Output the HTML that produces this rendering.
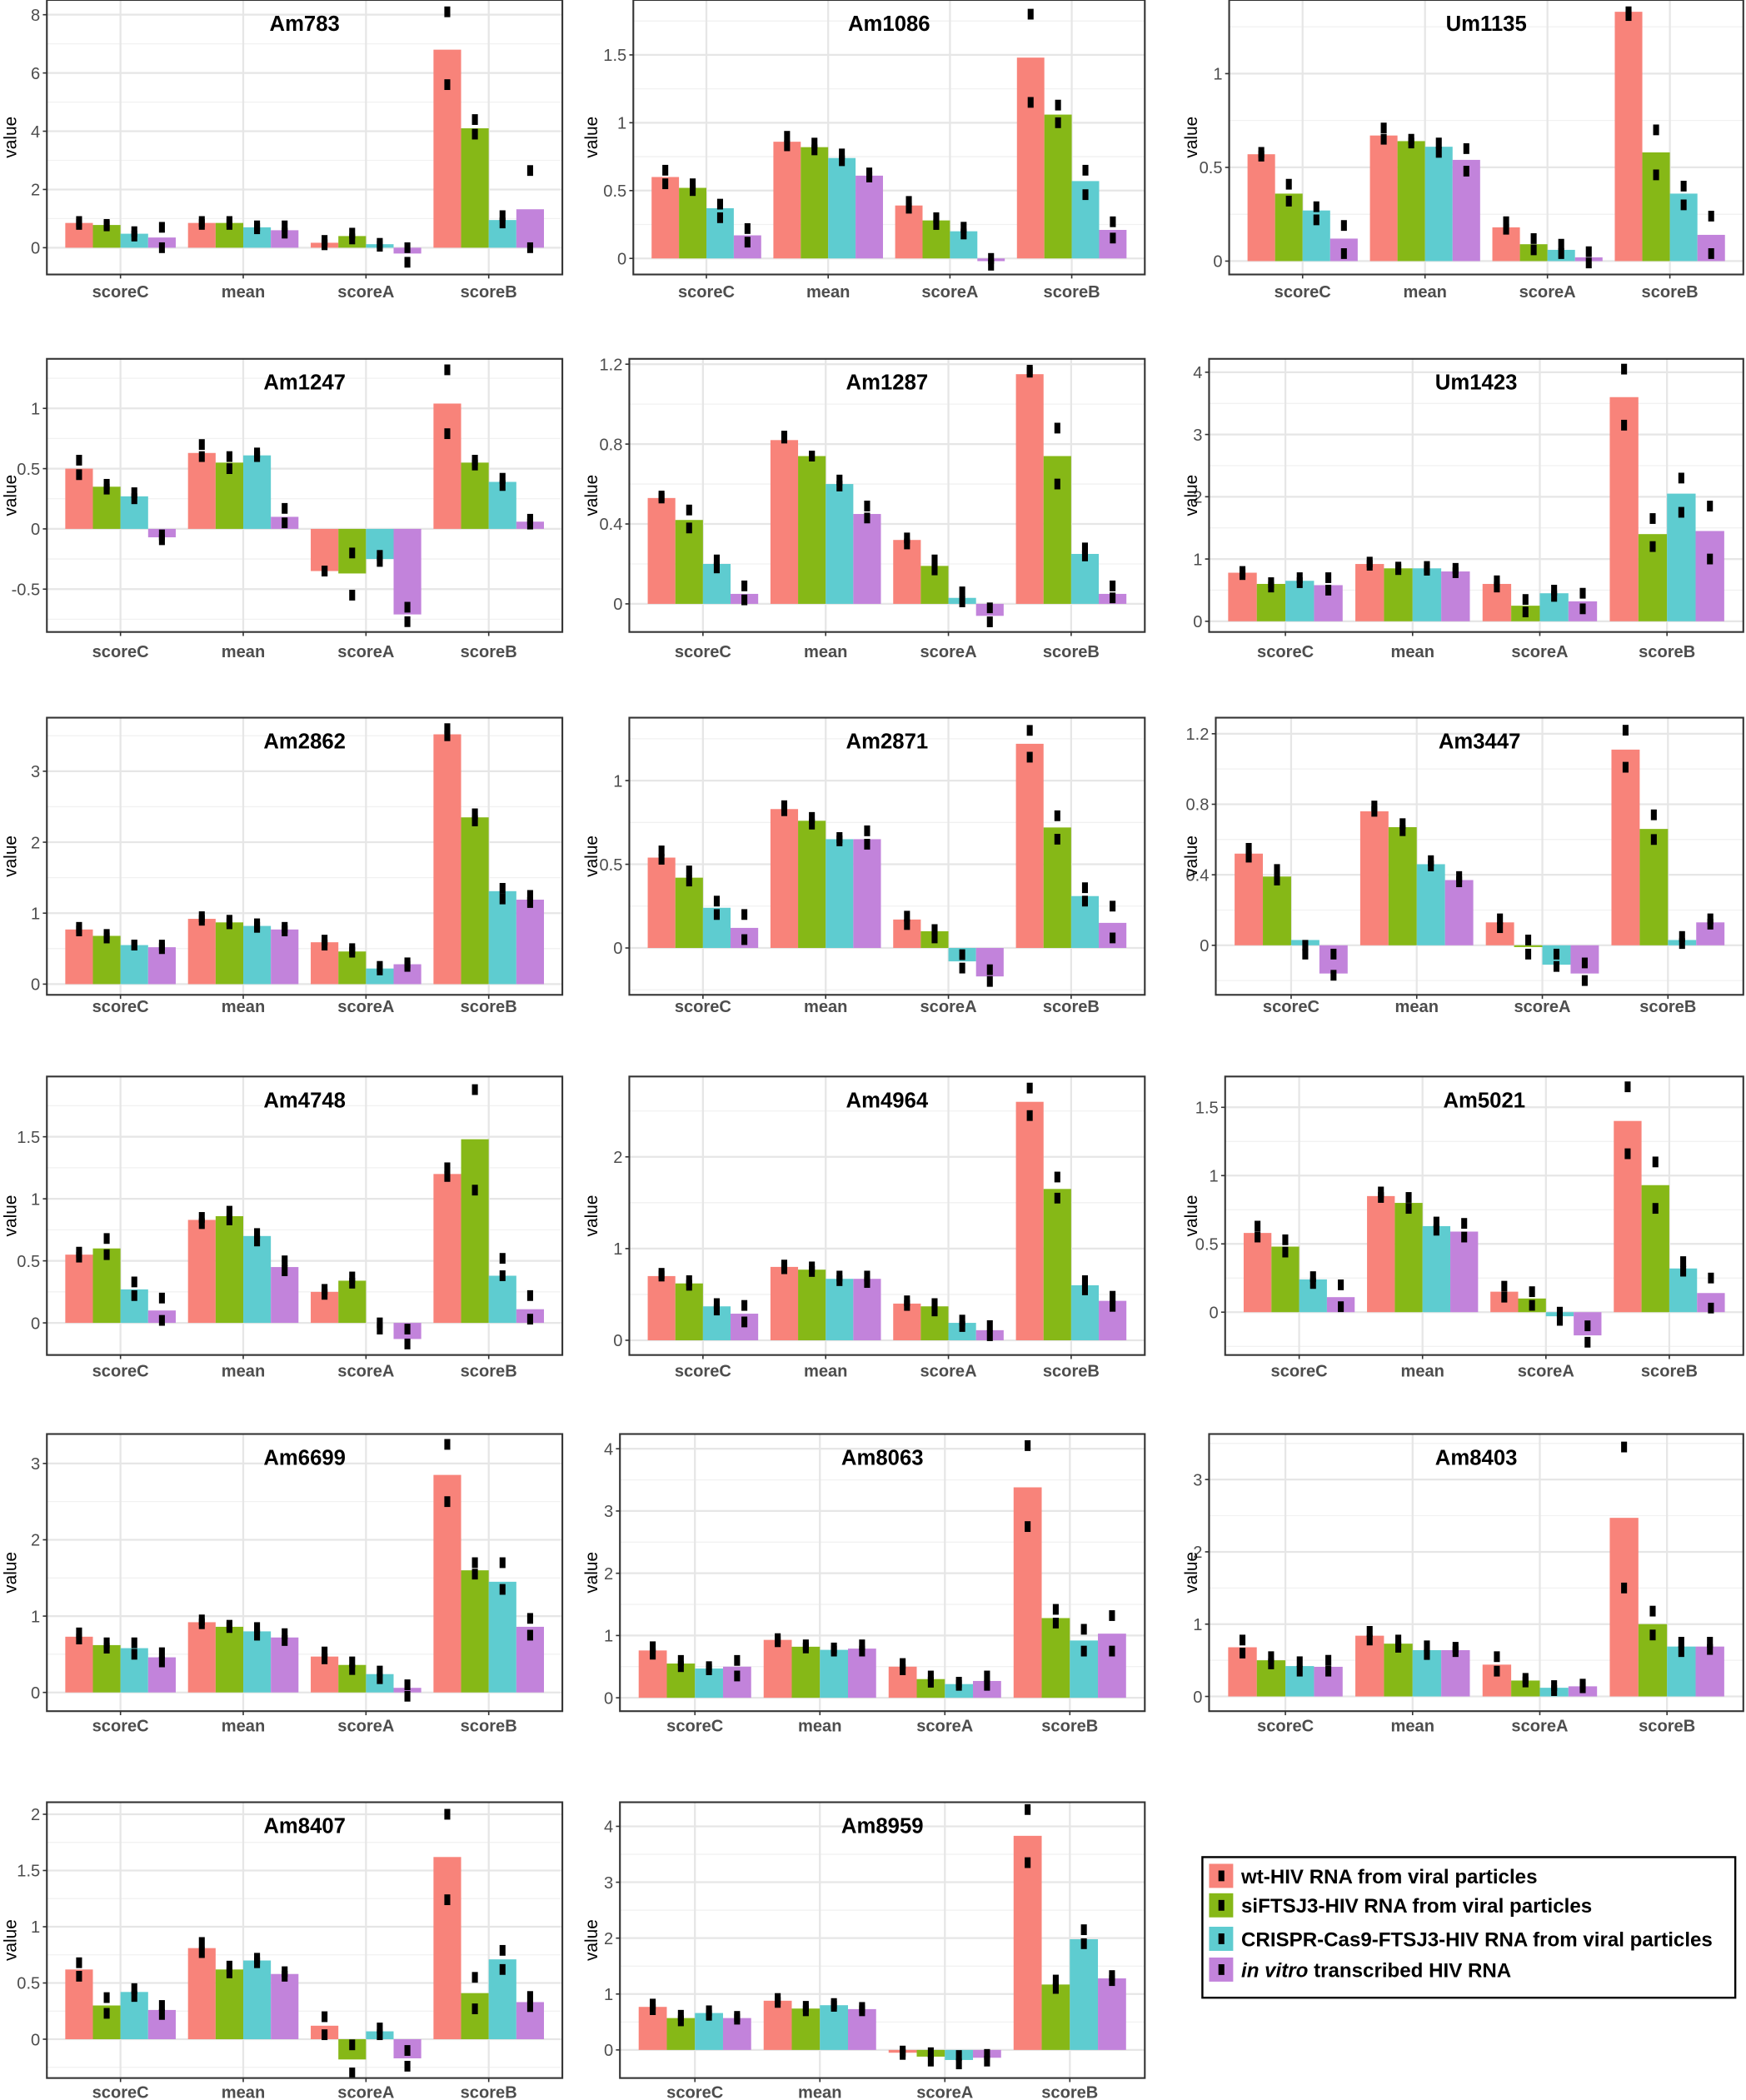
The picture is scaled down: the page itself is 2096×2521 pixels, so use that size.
<!DOCTYPE html>
<html><head><meta charset="utf-8"><style>html,body{margin:0;padding:0;background:#fff}svg{display:block}</style></head>
<body>
<svg id="s" xmlns="http://www.w3.org/2000/svg" width="2096" height="2521" viewBox="0 0 1304 1568.4" preserveAspectRatio="none" font-family="Liberation Sans, Arial, sans-serif"></svg>
<script>
const C=["#F8837A","#86B817","#5ECCD0","#C283DB"];
const rows=[[0,205,217],[268,472,486],[536,743,751],[804,1012,1023],[1071,1278,1288],[1346,1552,1562]];
const R=[420,855,1302];
const P=[
["Am783",0,0,35,[0,2,4,6,8],185,11,[[.85,.78,.48,.35],[.85,.85,.7,.6],[.17,.4,.12,-.2],[6.8,4.1,.95,1.32]],[[[.9,.8],[.8,.75],[.55,.4],[.7,0]],[[.9,.8],[.9,.8],[.75,.65],[.75,.5]],[[.25,.1],[.5,.3],[.15,.05],[0,-.5]],[[8.1,5.6],[4.4,3.9],[1.1,.85],[2.65,0]]],"value"],
["Am1086",0,1,473,[0,.5,1,1.5],193,41,[[.6,.52,.37,.17],[.86,.82,.74,.61],[.39,.28,.2,-.02],[1.48,1.06,.57,.21]],[[[.65,.55],[.55,.5],[.4,.3],[.22,.12]],[[.9,.83],[.85,.8],[.77,.72],[.63,.6]],[[.42,.37],[.3,.25],[.23,.18],[0,-.05]],[[1.8,1.15],[1.13,1.0],[.65,.47],[.27,.15]]]],
["Um1135",0,2,918,[0,.5,1],195,55,[[.57,.36,.27,.12],[.67,.64,.61,.54],[.18,.09,.06,.02],[1.33,.58,.36,.14]],[[[.58,.56],[.41,.32],[.29,.22],[.19,.04]],[[.71,.65],[.65,.63],[.63,.58],[.6,.48]],[[.21,.17],[.12,.06],[.09,.04],[.05,-.01]],[[1.33,1.31],[.7,.46],[.4,.3],[.24,.04]]]],
["Am1247",1,0,35,[-.5,0,.5,1],440,305,[[.5,.35,.27,-.07],[.63,.55,.61,.1],[-.35,-.37,-.25,-.71],[1.04,.55,.39,.06]],[[[.57,.45],[.37,.33],[.3,.25],[-.05,-.09]],[[.7,.6],[.6,.5],[.63,.6],[.17,.05]],[[-.35,-.35],[-.2,-.55],[-.22,-.27],[-.65,-.77]],[[1.32,.79],[.57,.53],[.42,.36],[.08,.04]]]],
["Am1287",1,1,470,[0,.4,.8,1.2],451,272,[[.53,.42,.2,.05],[.82,.74,.6,.45],[.32,.19,.03,-.06],[1.15,.74,.25,.05]],[[[.54,.53],[.47,.38],[.22,.18],[.09,.02]],[[.84,.83],[.74,.74],[.62,.59],[.49,.43]],[[.33,.3],[.22,.17],[.06,.01],[-.02,-.09]],[[1.17,1.16],[.88,.6],[.28,.24],[.09,.03]]]],
["Um1423",1,2,903,[0,1,2,3,4],464,278,[[.78,.6,.65,.58],[.92,.85,.85,.8],[.6,.25,.45,.32],[3.6,1.4,2.05,1.45]],[[[.8,.75],[.62,.55],[.7,.62],[.7,.5]],[[.95,.9],[.87,.83],[.88,.82],[.85,.78]],[[.65,.55],[.35,.15],[.5,.4],[.45,.2]],[[4.05,3.15],[1.65,1.2],[2.3,1.75],[1.85,1.0]]]],
["Am2862",2,0,35,[0,1,2,3],735,576,[[.77,.68,.55,.52],[.92,.87,.82,.77],[.59,.46,.22,.28],[3.52,2.35,1.31,1.19]],[[[.8,.75],[.7,.65],[.55,.55],[.55,.5]],[[.95,.9],[.9,.85],[.85,.8],[.8,.75]],[[.62,.55],[.5,.45],[.25,.2],[.3,.25]],[[3.6,3.5],[2.4,2.3],[1.35,1.2],[1.25,1.15]]]],
["Am2871",2,1,470,[0,.5,1],708,583,[[.54,.42,.24,.12],[.83,.76,.65,.65],[.17,.1,-.08,-.17],[1.22,.72,.31,.15]],[[[.58,.53],[.46,.4],[.28,.2],[.2,.05]],[[.85,.82],[.78,.74],[.66,.64],[.7,.62]],[[.19,.14],[.11,.06],[-.04,-.12],[-.13,-.2]],[[1.3,1.14],[.79,.65],[.36,.28],[.25,.06]]]],
["Am3447",2,2,908,[0,.4,.8,1.2],706,548,[[.52,.39,.03,-.16],[.76,.67,.46,.37],[.13,-.01,-.11,-.16],[1.11,.66,.03,.13]],[[[.55,.5],[.43,.37],[0,-.05],[-.05,-.17]],[[.79,.76],[.69,.65],[.48,.45],[.39,.36]],[[.15,.1],[.03,-.05],[-.05,-.12],[-.1,-.2]],[[1.22,1.01],[.74,.6],[.05,.01],[.15,.12]]]],
["Am4748",3,0,35,[0,.5,1,1.5],988,849,[[.55,.6,.27,.1],[.83,.86,.7,.45],[.25,.34,0,-.13],[1.2,1.48,.38,.11]],[[[.57,.53],[.68,.55],[.33,.22],[.2,.02]],[[.85,.8],[.9,.83],[.72,.66],[.5,.42]],[[.27,.23],[.37,.32],[0,-.05],[-.05,-.17]],[[1.25,1.18],[1.88,1.07],[.52,.38],[.22,.03]]]],
["Am4964",3,1,470,[0,1,2],1001,864,[[.7,.62,.37,.29],[.8,.77,.67,.67],[.4,.37,.19,.11],[2.6,1.65,.6,.43]],[[[.73,.7],[.65,.6],[.4,.33],[.38,.2]],[[.82,.78],[.8,.75],[.7,.65],[.7,.63]],[[.43,.38],[.4,.32],[.22,.15],[.16,.05]],[[2.75,2.45],[1.78,1.55],[.65,.55],[.48,.37]]]],
["Am5021",3,2,915,[0,.5,1,1.5],980,827,[[.58,.48,.24,.11],[.85,.8,.63,.59],[.15,.1,-.03,-.17],[1.4,.93,.32,.14]],[[[.63,.55],[.53,.44],[.26,.21],[.2,.04]],[[.88,.84],[.84,.76],[.66,.6],[.65,.55]],[[.19,.11],[.15,.05],[0,-.06],[-.1,-.22]],[[1.65,1.16],[1.1,.76],[.37,.3],[.25,.03]]]],
["Am6699",4,0,35,[0,1,2,3],1264,1093,[[.73,.62,.58,.46],[.92,.86,.8,.72],[.47,.36,.24,.06],[2.85,1.6,1.45,.86]],[[[.78,.7],[.65,.58],[.65,.5],[.52,.4]],[[.95,.9],[.88,.85],[.85,.75],[.77,.68]],[[.53,.44],[.4,.3],[.28,.18],[.1,-.05]],[[3.25,2.5],[1.7,1.55],[1.7,1.35],[.97,.75]]]],
["Am8063",4,1,463,[0,1,2,3,4],1268,1082,[[.76,.55,.47,.5],[.93,.82,.77,.79],[.5,.3,.22,.27],[3.38,1.28,.92,1.03]],[[[.82,.7],[.6,.5],[.5,.45],[.6,.35]],[[.95,.9],[.85,.8],[.8,.75],[.85,.75]],[[.55,.45],[.35,.25],[.25,.2],[.35,.2]],[[4.05,2.75],[1.42,1.2],[1.1,.75],[1.32,.75]]]],
["Am8403",4,2,903,[0,1,2,3],1267,1105,[[.68,.5,.42,.41],[.84,.73,.64,.64],[.44,.22,.12,.14],[2.47,1.0,.69,.69]],[[[.78,.6],[.55,.45],[.48,.35],[.5,.35]],[[.9,.78],[.78,.68],[.7,.58],[.68,.62]],[[.55,.35],[.25,.2],[.15,.08],[.17,.12]],[[3.45,1.5],[1.18,.85],[.75,.62],[.75,.65]]]],
["Am8407",5,0,35,[0,.5,1,1.5,2],1523,1355,[[.62,.3,.42,.26],[.81,.62,.7,.58],[.12,-.18,.07,-.17],[1.62,.41,.71,.33]],[[[.68,.56],[.37,.23],[.45,.38],[.3,.22]],[[.86,.77],[.65,.59],[.72,.68],[.6,.56]],[[.2,.04],[-.05,-.3],[.1,.04],[-.1,-.24]],[[2.0,1.24],[.55,.27],[.79,.62],[.38,.29]]]],
["Am8959",5,1,463,[0,1,2,3,4],1531,1364,[[.77,.57,.66,.57],[.88,.74,.8,.73],[-.05,-.12,-.18,-.14],[3.83,1.17,1.98,1.28]],[[[.82,.72],[.62,.52],[.7,.62],[.6,.55]],[[.92,.85],[.78,.7],[.83,.78],[.76,.7]],[[-.02,-.08],[-.05,-.2],[-.1,-.25],[-.08,-.2]],[[4.3,3.35],[1.25,1.1],[2.15,1.9],[1.33,1.24]]]]
];
const G=["scoreC","mean","scoreA","scoreB"];
let h="";
for(const p of P){
 const [name,ri,ci,L,ticks,py0,py1,bars,pts]=p;
 const [T,B,XL]=rows[ri]; const Rr=R[ci];
 const t0=ticks[0],t1=ticks[ticks.length-1];
 const Y=v=>py0+(v-t0)*(py1-py0)/(t1-t0);
 const X=g=>L+(g-0.4)/4.2*(Rr-L);
 h+=`<rect x="${L}" y="${T}" width="${Rr-L}" height="${B-T}" fill="#fff"/>`;
 h+=`<svg x="${L}" y="${T}" width="${Rr-L}" height="${B-T}" overflow="hidden"><g transform="translate(${-L},${-T})">`;
 const st=ticks[1]-ticks[0];
 for(let v=t0-st*1.5;v<=t1+st*1.5;v+=st/2){const y=Y(v);const maj=Math.abs((v-t0)/st-Math.round((v-t0)/st))<1e-6;h+=`<line x1="${L}" x2="${Rr}" y1="${y}" y2="${y}" stroke="${maj?'#e6e6e6':'#f1f1f1'}" stroke-width="${maj?1.4:0.8}"/>`;}
 for(let g=1;g<=4;g++)h+=`<line x1="${X(g)}" x2="${X(g)}" y1="${T}" y2="${B}" stroke="#e6e6e6" stroke-width="1.4"/>`;
 const w=(X(1.225)-X(1));
 for(let g=0;g<4;g++)for(let s=0;s<4;s++){const x0=X(g+1-0.45+0.225*s);const v=bars[g][s];const y1=Y(v),y0=Y(0);h+=`<rect x="${x0}" y="${Math.min(y0,y1)}" width="${w}" height="${Math.abs(y1-y0)}" fill="${C[s]}"/>`;}
 for(let g=0;g<4;g++)for(let s=0;s<4;s++){const xc=X(g+1-0.45+0.225*s+0.1125);for(const v of pts[g][s])h+=`<rect x="${xc-2.2}" y="${Y(v)-4}" width="4.4" height="8" fill="#000"/>`;}
 h+=`</g></svg>`;
 h+=`<rect x="${L}" y="${T}" width="${Rr-L}" height="${B-T}" fill="none" stroke="#333" stroke-width="1.3"/>`;
 for(const v of ticks){const y=Y(v);h+=`<line x1="${L-3}" x2="${L}" y1="${y}" y2="${y}" stroke="#333"/><text x="${L-5}" y="${y+4.5}" font-size="12.5" fill="#4d4d4d" text-anchor="end">${v}</text>`;}
 for(let g=1;g<=4;g++){h+=`<line x1="${X(g)}" x2="${X(g)}" y1="${B}" y2="${B+3}" stroke="#333"/><text x="${X(g)}" y="${XL+5}" font-size="12.5" font-weight="bold" fill="#4d4d4d" text-anchor="middle">${G[g-1]}</text>`;}
 h+=`<text x="${(L+Rr)/2}" y="${T+23}" font-size="16" font-weight="bold" text-anchor="middle">${name}</text>`;
 const lx=[8,442,890][ci];
 h+=`<text transform="translate(${lx+4},${(T+B)/2}) rotate(-90)" font-size="13" text-anchor="middle">value</text>`;
}
h+=`<rect x="898" y="1387" width="398" height="105" fill="#fff" stroke="#000" stroke-width="1.5"/>`;
const lab=["wt-HIV RNA from viral particles","siFTSJ3-HIV RNA from viral particles","CRISPR-Cas9-FTSJ3-HIV RNA from viral particles",""];
const ly=[1401,1423,1448,1471];
for(let i=0;i<4;i++){h+=`<rect x="903" y="${ly[i]-9}" width="18" height="18" fill="${C[i]}"/><rect x="910" y="${ly[i]-4}" width="4.4" height="8" fill="#000"/>`;
 const t=i<3?lab[i]:`<tspan font-style="italic">in vitro</tspan> transcribed HIV RNA`;
 h+=`<text x="927" y="${ly[i]+5.5}" font-size="15" font-weight="bold">${t}</text>`;}
document.getElementById("s").innerHTML=h;
</script>
</body></html>
